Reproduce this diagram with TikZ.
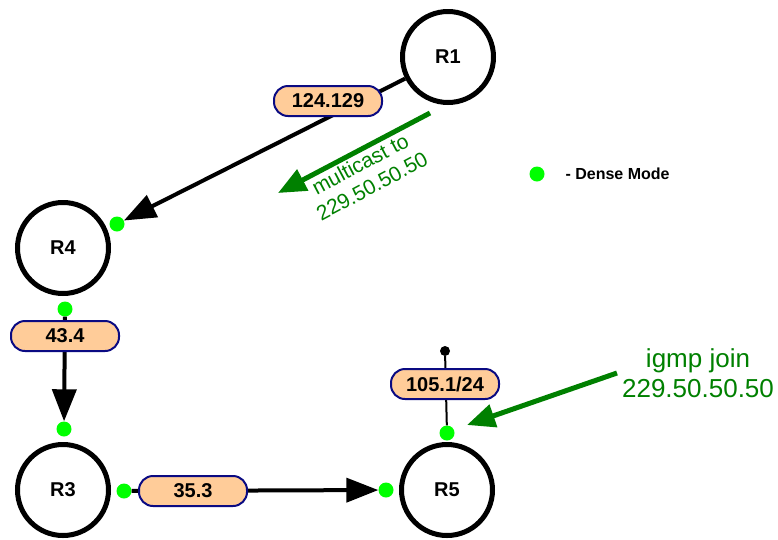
\documentclass[tikz,border=0pt]{standalone}
\usepackage{fontspec}
\setmainfont{Liberation Sans}
\usetikzlibrary{arrows.meta}
\definecolor{peach}{RGB}{255,204,153}
\definecolor{navyline}{RGB}{10,10,130}
\definecolor{densegreen}{RGB}{0,255,0}
\definecolor{notegreen}{RGB}{0,128,0}
\tikzset{
	router/.style={circle, draw=black, line width=5pt, fill=white, minimum size=91pt, inner sep=0pt, font=\bfseries\fontsize{20}{23}\selectfont},
	iface/.style={draw=navyline, fill=peach, line width=2pt, rounded corners=14pt, minimum width=108pt, minimum height=30pt, inner sep=0pt, font=\bfseries\fontsize{20}{23}\selectfont},
	dense/.style={circle, fill=densegreen, minimum size=15pt, inner sep=0pt},
	link/.style={line width=4pt, -{Triangle[length=32pt,width=24pt]}},
	note/.style={line width=5pt, color=notegreen, -{Triangle[length=28pt,width=23pt]}},
}

\begin{document}
\begin{tikzpicture}[x=1pt, y=-1pt]
			%%%%% START %%%%%
			\useasboundingbox (0, 0) rectangle (778, 539);
			
			\node[router] (R1) at (448, 57) {R1};
			\node[router] (R4) at (63, 248) {R4};
			\node[router] (R3) at (63, 490) {R3};
			\node[router] (R5) at (447, 490) {R5};
			
			\node[dense] (d41) at (117, 224) {};
			\node[dense] (d43) at (65, 309) {};
			\node[dense] (d34) at (64, 429) {};
			\node[dense] (d35) at (124, 491) {};
			\node[dense] (d53) at (386, 490) {};
			\node[dense] (d5t) at (447, 433) {};
			\node[circle, fill=black, minimum size=10pt, inner sep=0pt] (pin) at (445, 351) {};
			
			\draw[link] (R1) -- (d41);
			\draw[link] (d43) -- (d34);
			\draw[link] (d35) -- (d53);
			\draw[line width=2pt] (d5t) -- (pin);
			
			\node[iface] (l124) at (328, 101) {124.129};
			\node[iface] (l43) at (65, 336) {43.4};
			\node[iface] (l35) at (193, 491) {35.3};
			\node[iface] (l105) at (445, 384) {105.1/24};
			
			\coordinate (mcfrom) at (430, 113);
			\coordinate (mcto) at (278, 193);
			\draw[note] (mcfrom) -- (mcto);
			\node[rotate=28, text=notegreen, align=center, font=\fontsize{21}{25}\selectfont] (mctext) at (366, 175) {multicast to\\229.50.50.50};
			
			\coordinate (igfrom) at (617, 373);
			\coordinate (igto) at (467, 425);
			\draw[note] (igfrom) -- (igto);
			\node[text=notegreen, align=center, font=\fontsize{26}{30}\selectfont] (igtext) at (698, 373) {igmp join\\229.50.50.50};
			
			\node[dense] (legdot) at (537, 174) {};
			\node[anchor=west, font=\bfseries\fontsize{16}{18}\selectfont] (legtext) at (562, 174) {- Dense Mode};
			
			%%%%% END %%%%%
\end{tikzpicture}
\end{document}
